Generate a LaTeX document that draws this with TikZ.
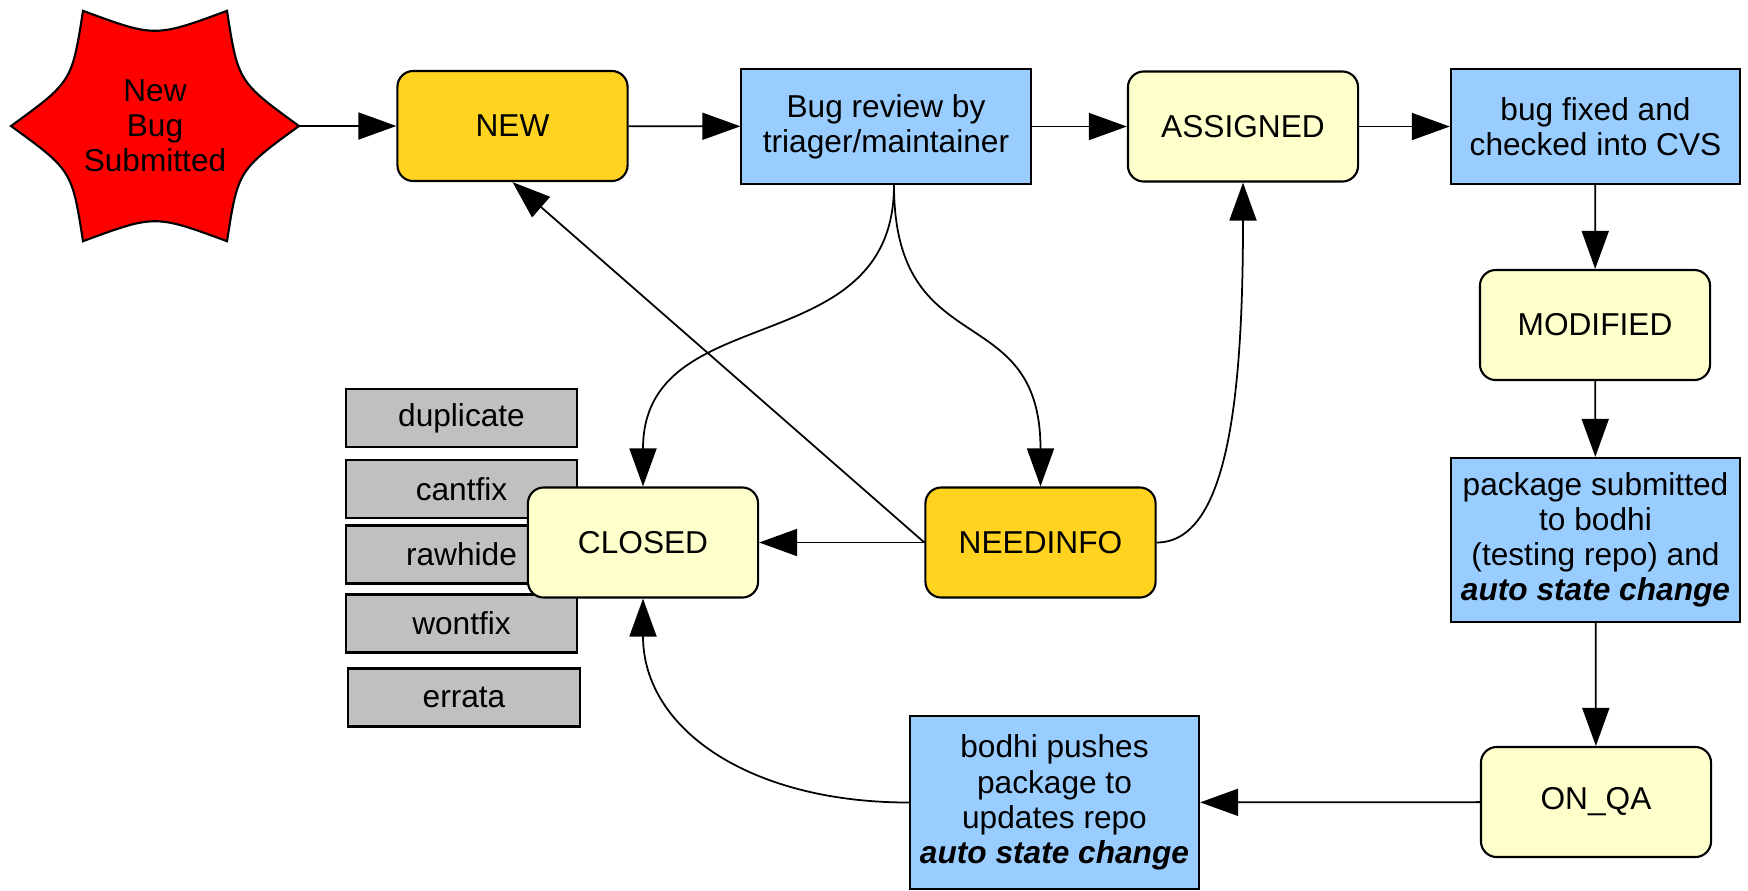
\documentclass[tikz,border=0pt]{standalone}
\usepackage{fontspec}
\setmainfont{Liberation Sans}
\usepackage{tikz}
\usetikzlibrary{arrows.meta}
\usetikzlibrary{shapes}
\usetikzlibrary{positioning}
\usepackage{xcolor}
\definecolor{bugred}{RGB}{255,0,0}
\definecolor{stategold}{RGB}{255,211,32}
\definecolor{statepale}{RGB}{255,255,204}
\definecolor{taskblue}{RGB}{153,204,255}
\definecolor{reasongrey}{RGB}{192,192,192}

\begin{document}
\begin{tikzpicture}[x=0.01cm,y=-0.01cm]
                \tikzstyle{every node}=[font=\fontsize{9pt}{10pt}\selectfont,align=center,inner sep=0pt]
                \tikzstyle{state}=[draw,line width=0.6pt,rounded corners=4.5pt,minimum width=2.3cm,minimum height=1.1cm]
                \tikzstyle{task}=[draw,line width=0.6pt,fill=taskblue,minimum width=2.89cm]
                \tikzstyle{reason}=[draw,line width=0.6pt,fill=reasongrey,minimum width=2.31cm,minimum height=0.58cm]
                \tikzstyle{flow}=[line width=0.5pt,-{Triangle[length=3.8mm,width=2.7mm]}]
                \useasboundingbox (0,0) rectangle (1748,890);

                \draw[line width=0.6pt,fill=bugred] (299,126)
                    \foreach \a in {0,60,...,300} {
                        .. controls ({155+0.666*144*cos(\a+30)},{126+0.666*133*sin(\a+30)}) .. ({155+144*cos(\a+60)},{126+133*sin(\a+60)})
                    } -- cycle;
                \node (bug) at (155,126) {New\\Bug\\Submitted};
                \coordinate (bugtip) at (299,126);

                \node[reason] (dup) at (461.5,418) {duplicate};
                \node[reason] (cant) at (461.5,489) {cantfix};
                \node[reason] (raw) at (461.5,554.5) {rawhide};
                \node[reason] (wont) at (461.5,623.5) {wontfix};
                \node[reason] (errata) at (464,697.5) {errata};

                \node[state,fill=stategold] (new) at (512.5,126) {NEW};
                \node[task,minimum height=1.15cm] (review) at (886,126.5) {Bug review by\\triager/maintainer};
                \node[state,fill=statepale] (assigned) at (1243,126.5) {ASSIGNED};
                \node[task,minimum height=1.15cm] (fixed) at (1595.5,126.5) {bug fixed and\\checked into CVS};
                \node[state,fill=statepale] (modified) at (1595,325) {MODIFIED};
                \node[task,minimum height=1.64cm] (submitted) at (1595.5,540) {package submitted\\to bodhi\\(testing repo) and\\\textbf{\textit{auto state change}}};
                \node[state,fill=statepale] (onqa) at (1596,802) {ON\_QA};
                \node[task,minimum height=1.73cm] (pushes) at (1054.5,802.5) {bodhi pushes\\package to\\updates repo\\\textbf{\textit{auto state change}}};
                \node[state,fill=statepale] (closed) at (643,542.5) {CLOSED};
                \node[state,fill=stategold] (needinfo) at (1040.5,542.5) {NEEDINFO};

                \draw[flow] (bugtip) -- (new);
                \draw[flow] (new) -- (review);
                \draw[flow] (review) -- (assigned);
                \draw[flow] (assigned) -- (fixed);
                \draw[flow] (fixed) -- (modified);
                \draw[flow] (modified) -- (submitted);
                \draw[flow] (submitted) -- (onqa);
                \draw[flow] (onqa) -- (pushes);
                \draw[flow] (needinfo) -- (closed);
                \draw[flow] (needinfo.west) -- (new.south);

                \draw[flow] ([xshift=0.08cm]review.south) .. controls +(0,180) and +(0,-190) .. (closed.north);
                \draw[flow] ([xshift=0.08cm]review.south) .. controls +(0,180) and +(0,-190) .. (needinfo.north);
                \draw[flow] (needinfo.east) .. controls +(70,0) and +(0,220) .. (assigned.south);
                \draw[flow] (pushes.west) .. controls +(-160,0) and +(0,130) .. (closed.south);
            \end{tikzpicture}
\end{document}
